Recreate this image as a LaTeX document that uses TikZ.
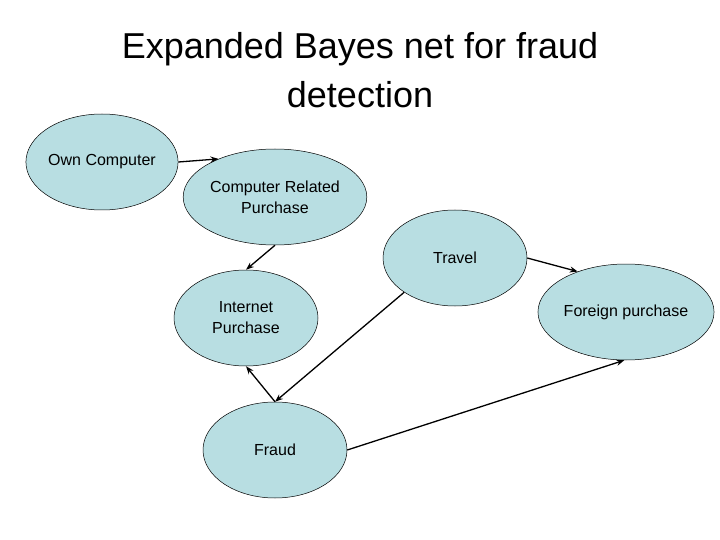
\documentclass[tikz,border=0pt]{standalone}
\usepackage{fontspec}
\setmainfont{Liberation Sans}
\usetikzlibrary{shapes.geometric,arrows.meta}
\definecolor{nodefill}{RGB}{184,222,226}
\begin{document}
\begin{tikzpicture}[x=1pt,y=-1pt,
  bn/.style={ellipse,draw=black,line width=0.5pt,fill=nodefill,minimum width=144pt,minimum height=96pt,inner sep=0pt,font=\fontsize{16}{21}\selectfont,align=center},
  arr/.style={-{Stealth[length=8pt,width=6pt]},line width=1.3pt}]
\useasboundingbox (0,0) rectangle (720,540);
\node[font=\fontsize{36}{49}\selectfont,align=center] (title) at (360,70) {Expanded Bayes net for fraud\\detection};
\node[bn,minimum width=130pt] (own) at (102,162) {Own Computer};
\node[bn] (crp) at (275,197) {Computer Related\\Purchase};
\node[bn] (trav) at (455,258) {Travel};
\node[bn] (inet) at (246,318) {Internet\\Purchase};
\node[bn,minimum width=148pt] (for) at (626,312) {Foreign purchase};
\node[bn] (fraud) at (275,450) {Fraud};
\draw[arr] (own.east) -- (crp.146);
\draw[arr] (crp.south) -- (inet.north);
\draw[arr] (fraud.north) -- (inet.south);
\draw[arr] (trav.-146) -- (fraud.north);
\draw[arr] (trav.east) -- (for.140);
\draw[arr] (fraud.east) -- (for.-92);
\end{tikzpicture}
\end{document}
